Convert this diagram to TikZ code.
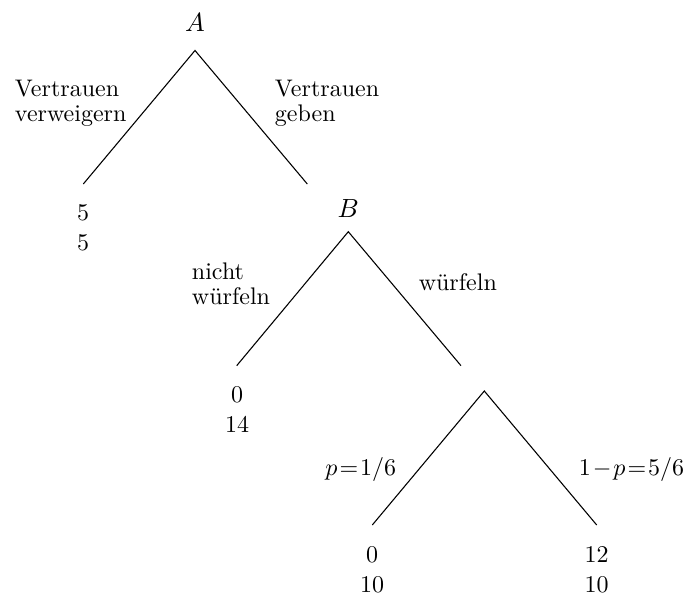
\documentclass[tikz,border=0pt]{standalone}
\begin{document}
\begin{tikzpicture}[x=0.4167pt,y=-0.4167pt,
  branch/.style={line width=0.45pt},
  lbl/.style={inner sep=0pt,anchor=base west,align=left,font=\fontsize{10pt}{10.5pt}\selectfont},
  pay/.style={inner sep=0pt,anchor=base},
  player/.style={inner sep=0pt,anchor=base,font=\fontsize{11pt}{13pt}\selectfont}]
\useasboundingbox (0,0) rectangle (686,597);
% decision node A
\node[player] (Alab) at (195,31.5) {$A$};
\coordinate (a) at (195,50.5);
\coordinate (aL) at (83.3,184);
\coordinate (aR) at (307.3,184);
\draw[branch] (aL) -- (a) -- (aR);
\node[lbl] (vv) at (14.5,121.7) {Vertrauen\\verweigern};
\node[lbl] (vg) at (274.5,121.7) {Vertrauen\\geben};
\node[pay] (p1a) at (83,220.5) {5};
\node[pay] (p1b) at (83,250.5) {5};
% decision node B
\node[player] (Blab) at (348.3,217.5) {$B$};
\coordinate (b) at (348.3,231.7);
\coordinate (bL) at (236.7,365.7);
\coordinate (bR) at (461,365.7);
\draw[branch] (bL) -- (b) -- (bR);
\node[lbl] (nw) at (191.5,305) {nicht\\w\"urfeln};
\node[lbl] (w) at (418.3,291) {w\"urfeln};
\node[pay] (p2a) at (237,402) {0};
\node[pay] (p2b) at (237,432) {14};
% chance node
\coordinate (c) at (484.3,391);
\coordinate (cL) at (372.3,525);
\coordinate (cR) at (596.7,525);
\draw[branch] (cL) -- (c) -- (cR);
\node[lbl] (pl) at (325,475) {$\medmuskip=1mu\thickmuskip=1.5mu p=1/6$};
\node[lbl] (pr) at (578.3,475) {$\medmuskip=1.5mu\thickmuskip=1.5mu 1-p=5/6$};
\node[pay] (p3a) at (372,562) {0};
\node[pay] (p3b) at (372,592) {10};
\node[pay] (p4a) at (596.5,562) {12};
\node[pay] (p4b) at (596.5,592) {10};
\end{tikzpicture}
\end{document}
